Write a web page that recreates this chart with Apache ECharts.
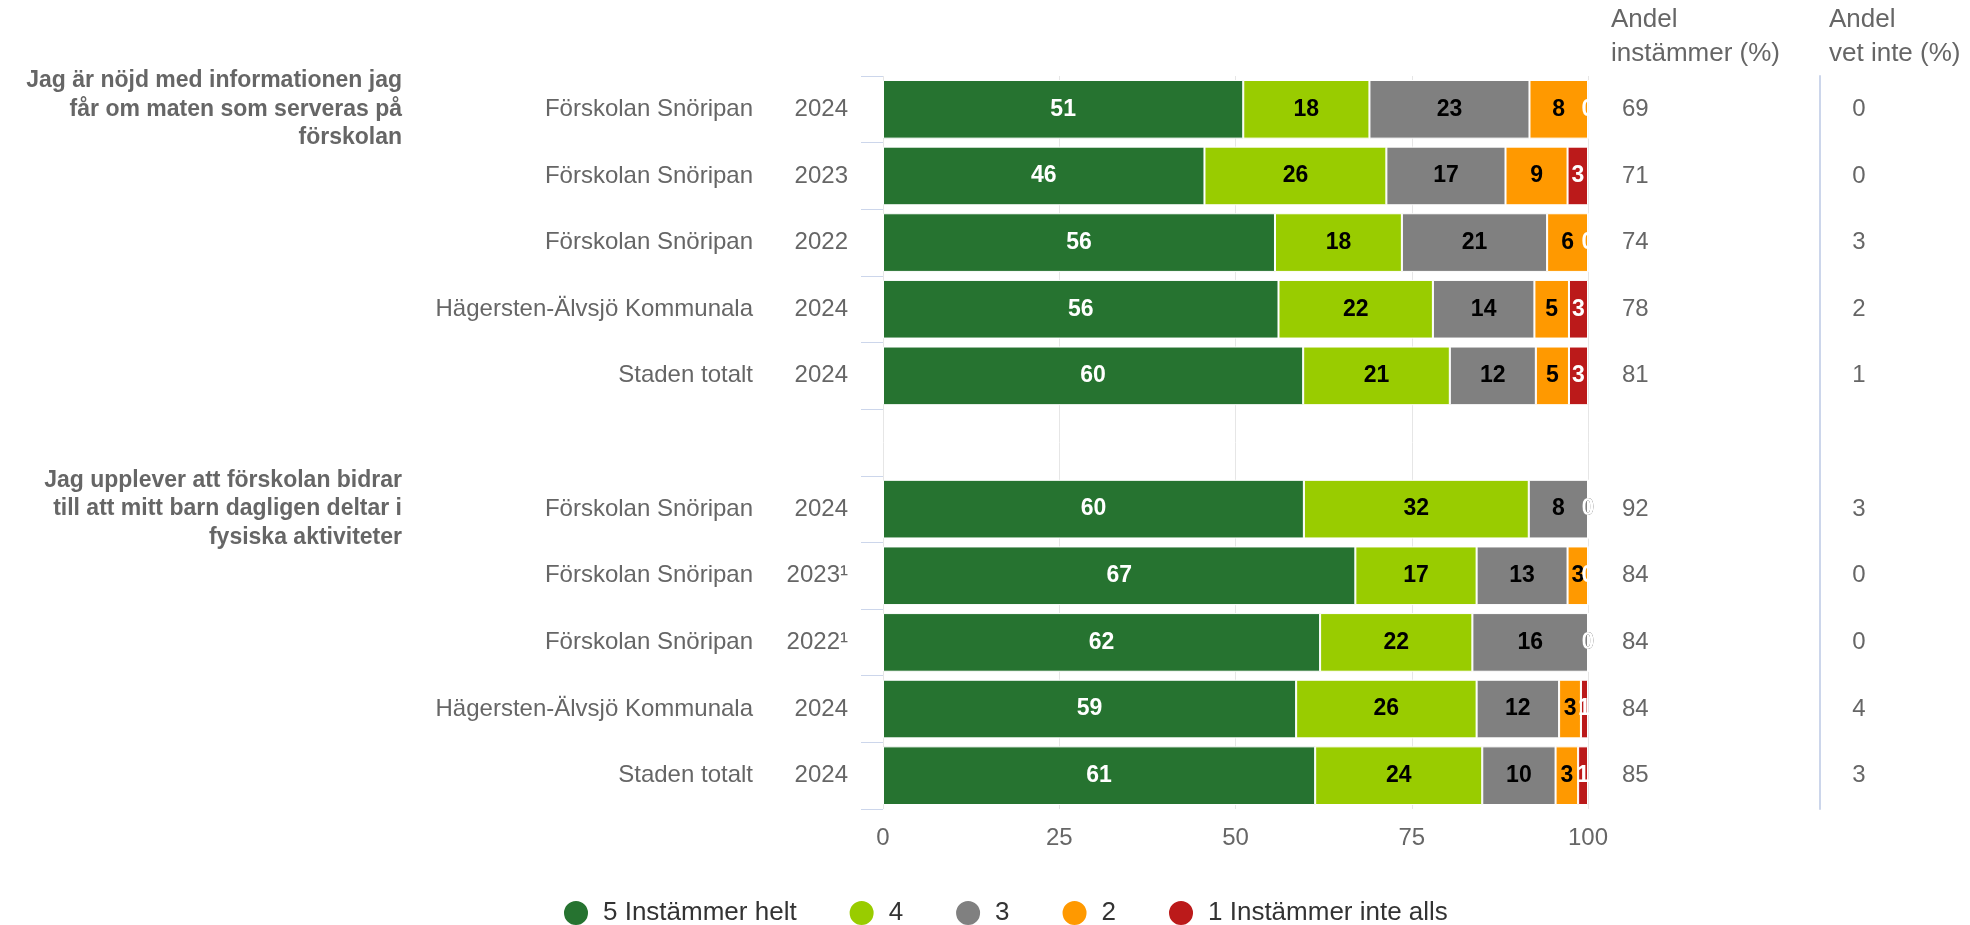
<!DOCTYPE html>
<html>
<head>
<meta charset="utf-8">
<script src="https://cdn.jsdelivr.net/npm/echarts@6/dist/echarts.min.js"></script>
<style>
  html, body { margin: 0; padding: 0; background: #fff; }
  #chart { width: 1970px; height: 925px; }
</style>
</head>
<body>
<div id="chart"></div>
<script>
// rader uppifrån, index 5 är mellanrummet mellan de två frågorna
const units = ['Förskolan Snöripan', 'Förskolan Snöripan', 'Förskolan Snöripan', 'Hägersten-Älvsjö Kommunala', 'Staden totalt', '',
  'Förskolan Snöripan', 'Förskolan Snöripan', 'Förskolan Snöripan', 'Hägersten-Älvsjö Kommunala', 'Staden totalt']
const years = ['2024', '2023', '2022', '2024', '2024', '', '2024', '2023¹', '2022¹', '2024', '2024']
const questions = ['Jag är nöjd med informationen jag\nfår om maten som serveras på\nförskolan', '', '', '', '', '',
  'Jag upplever att förskolan bidrar\ntill att mitt barn dagligen deltar i\nfysiska aktiviteter', '', '', '', '']

const seriesNames = ['5 Instämmer helt', '4', '3', '2', '1 Instämmer inte alls']
const seriesColors = ['#267330', '#99cc00', '#808080', '#ff9900', '#bb1a1a']
const labelColors = ['#fff', '#000', '#000', '#000', '#fff']

// andelar i procent (etiketterna visar avrundat värde)
const grade5 = [51.1, 45.6, 55.6, 56.1, 59.6, '-', 59.7, 67.0, 62.0, 58.6, 61.3]
const grade4 = [17.9, 25.8, 18.0, 21.9, 20.8, '-', 31.9, 17.2, 21.6, 25.6, 23.7]
const grade3 = [22.7, 16.9, 20.6, 14.4, 12.2, '-', 8.4, 12.9, 16.4, 11.7, 10.4]
const grade2 = [8.3, 8.8, 5.8, 4.9, 4.7, '-', 0, 2.9, 0, 3.1, 3.2]
const grade1 = [0, 2.9, 0, 2.7, 2.7, '-', 0, 0, 0, 1.0, 1.4]

const shareAgree = ['69', '71', '74', '78', '81', '', '92', '84', '84', '84', '85']
const shareDontKnow = ['0', '0', '3', '2', '1', '', '3', '0', '0', '4', '3']

const xTicks = [0, 25, 50, 75, 100]

const font = 'Liberation Sans, Arial, sans-serif'
const rowKeys = units.map((u, i) => String(i))
const allGrades = [grade5, grade4, grade3, grade2, grade1]

const chart = echarts.init(document.getElementById('chart'))

const seriesArr = allGrades.map((vals, idx) => {
    return {
        name: seriesNames[idx],
        type: 'bar',
        stack: 'total',
        barCategoryGap: '12%',
        data: vals,
        itemStyle: {
            color: seriesColors[idx],
            borderColor: '#fff',
            borderWidth: 1
        },
        label: {
            show: true,
            position: 'inside',
            color: labelColors[idx],
            fontFamily: font,
            fontSize: 23,
            fontWeight: 'bold',
            formatter: p => String(Math.round(p.value))
        }
    }
})

const option = {
    animation: false,
    backgroundColor: '#fff',
    textStyle: { fontFamily: font },
    grid: { left: 883, right: 382, top: 76, height: 733, containLabel: false },
    legend: {
        data: seriesNames,
        left: 557,
        top: 894,
        icon: 'circle',
        itemWidth: 26,
        itemHeight: 26,
        itemGap: 51,
        textStyle: { fontSize: 26, color: '#333', fontFamily: font, padding: [0, 0, 0, 9] }
    },
    xAxis: {
        type: 'value',
        min: xTicks[0],
        max: xTicks[xTicks.length - 1],
        interval: 25,
        axisLine: { show: false },
        axisTick: { show: false },
        splitLine: { show: true, lineStyle: { color: '#e6e6e6', width: 1 } },
        axisLabel: { color: '#666', fontSize: 24, fontFamily: font, margin: 17 }
    },
    yAxis: [
        {
            type: 'category',
            data: rowKeys,
            inverse: true,
            axisLine: { show: false },
            axisTick: { show: true, length: 22, lineStyle: { color: '#ccd6eb' } },
            axisLabel: {
                margin: 35,
                formatter: (v, i) => units[i] ? '{n|' + units[i] + '}{y|' + years[i] + '}' : '',
                rich: {
                    n: { fontSize: 24, color: '#666', fontFamily: font, align: 'right' },
                    y: { fontSize: 24, color: '#666', fontFamily: font, align: 'right', width: 95 }
                }
            }
        },
        {
            type: 'category',
            data: rowKeys,
            inverse: true,
            position: 'left',
            axisLine: { show: false },
            axisTick: { show: false },
            axisLabel: {
                margin: 481,
                align: 'right',
                fontSize: 23,
                fontWeight: 'bold',
                lineHeight: 28.5,
                padding: [8, 0, 0, 0],
                color: '#666',
                fontFamily: font,
                formatter: (v, i) => questions[i]
            }
        },
        {
            type: 'category',
            data: rowKeys,
            inverse: true,
            position: 'right',
            axisLine: { show: false },
            axisTick: { show: false },
            axisLabel: {
                margin: 34,
                align: 'left',
                fontSize: 24,
                color: '#666',
                fontFamily: font,
                formatter: (v, i) => shareAgree[i]
            }
        },
        {
            type: 'category',
            data: rowKeys,
            inverse: true,
            position: 'right',
            offset: 232,
            axisLine: { show: true, lineStyle: { color: '#ccd6eb', width: 2 } },
            axisTick: { show: false },
            axisLabel: {
                margin: 39,
                align: 'center',
                fontSize: 24,
                color: '#666',
                fontFamily: font,
                formatter: (v, i) => shareDontKnow[i]
            }
        }
    ],
    graphic: [
        {
            type: 'text',
            left: 1611,
            top: 3,
            style: { text: 'Andel\ninstämmer (%)', font: '26px ' + font, fill: '#666', lineHeight: 34 }
        },
        {
            type: 'text',
            left: 1829,
            top: 3,
            style: { text: 'Andel\nvet inte (%)', font: '26px ' + font, fill: '#666', lineHeight: 34 }
        }
    ],
    series: seriesArr
}

chart.setOption(option)
</script>
</body>
</html>
